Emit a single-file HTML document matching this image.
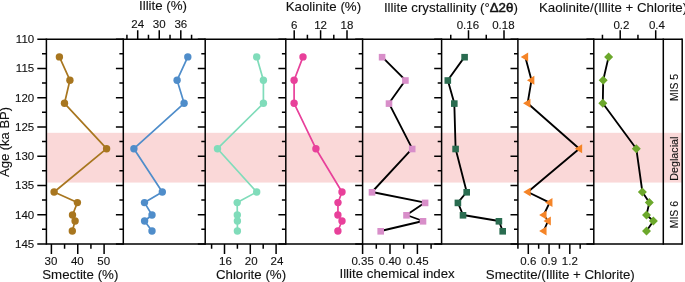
<!DOCTYPE html>
<html><head><meta charset="utf-8"><style>
html,body{margin:0;padding:0;background:#fff;width:685px;height:282px;overflow:hidden}
svg{display:block;font-family:"Liberation Sans",sans-serif;will-change:transform}
</style></head><body>
<svg width="685" height="282" viewBox="0 0 685 282">
<rect x="47.15" y="132.82" width="635.05" height="49.74" fill="#fad8d8"/><path d="M46.40 39.2H682.2M46.40 244.0H682.2" stroke="#000" stroke-width="1.5" fill="none"/><path d="M46.40 39.2V244.0M123.30 39.2V244.0M205.20 39.2V244.0M285.80 39.2V244.0M362.60 39.2V244.0M441.60 39.2V244.0M517.90 39.2V244.0M593.80 39.2V244.0M663.30 39.2V244.0M682.20 39.2V244.0" stroke="#000" stroke-width="1.5" fill="none" stroke-linecap="square"/><path d="M37.30 39.20H46.40M42.00 53.83H46.40M37.30 68.46H46.40M42.00 83.09H46.40M37.30 97.71H46.40M42.00 112.34H46.40M37.30 126.97H46.40M42.00 141.60H46.40M37.30 156.23H46.40M42.00 170.86H46.40M37.30 185.49H46.40M42.00 200.11H46.40M37.30 214.74H46.40M42.00 229.37H46.40M37.30 244.00H46.40M115.90 39.20H123.30M119.40 53.83H123.30M115.90 68.46H123.30M119.40 83.09H123.30M115.90 97.71H123.30M119.40 112.34H123.30M115.90 126.97H123.30M119.40 141.60H123.30M115.90 156.23H123.30M119.40 170.86H123.30M115.90 185.49H123.30M119.40 200.11H123.30M115.90 214.74H123.30M119.40 229.37H123.30M115.90 244.00H123.30M197.80 39.20H205.20M201.30 53.83H205.20M197.80 68.46H205.20M201.30 83.09H205.20M197.80 97.71H205.20M201.30 112.34H205.20M197.80 126.97H205.20M201.30 141.60H205.20M197.80 156.23H205.20M201.30 170.86H205.20M197.80 185.49H205.20M201.30 200.11H205.20M197.80 214.74H205.20M201.30 229.37H205.20M197.80 244.00H205.20M278.40 39.20H285.80M281.90 53.83H285.80M278.40 68.46H285.80M281.90 83.09H285.80M278.40 97.71H285.80M281.90 112.34H285.80M278.40 126.97H285.80M281.90 141.60H285.80M278.40 156.23H285.80M281.90 170.86H285.80M278.40 185.49H285.80M281.90 200.11H285.80M278.40 214.74H285.80M281.90 229.37H285.80M278.40 244.00H285.80M355.20 39.20H362.60M358.70 53.83H362.60M355.20 68.46H362.60M358.70 83.09H362.60M355.20 97.71H362.60M358.70 112.34H362.60M355.20 126.97H362.60M358.70 141.60H362.60M355.20 156.23H362.60M358.70 170.86H362.60M355.20 185.49H362.60M358.70 200.11H362.60M355.20 214.74H362.60M358.70 229.37H362.60M355.20 244.00H362.60M434.20 39.20H441.60M437.70 53.83H441.60M434.20 68.46H441.60M437.70 83.09H441.60M434.20 97.71H441.60M437.70 112.34H441.60M434.20 126.97H441.60M437.70 141.60H441.60M434.20 156.23H441.60M437.70 170.86H441.60M434.20 185.49H441.60M437.70 200.11H441.60M434.20 214.74H441.60M437.70 229.37H441.60M434.20 244.00H441.60M510.50 39.20H517.90M514.00 53.83H517.90M510.50 68.46H517.90M514.00 83.09H517.90M510.50 97.71H517.90M514.00 112.34H517.90M510.50 126.97H517.90M514.00 141.60H517.90M510.50 156.23H517.90M514.00 170.86H517.90M510.50 185.49H517.90M514.00 200.11H517.90M510.50 214.74H517.90M514.00 229.37H517.90M510.50 244.00H517.90M586.40 39.20H593.80M589.90 53.83H593.80M586.40 68.46H593.80M589.90 83.09H593.80M586.40 97.71H593.80M589.90 112.34H593.80M586.40 126.97H593.80M589.90 141.60H593.80M586.40 156.23H593.80M589.90 170.86H593.80M586.40 185.49H593.80M589.90 200.11H593.80M586.40 214.74H593.80M589.90 229.37H593.80M586.40 244.00H593.80M51.40 244.00V253.90M64.58 244.00V248.80M77.75 244.00V253.90M90.92 244.00V248.80M104.10 244.00V253.90M126.92 39.20V34.70M137.70 39.20V30.20M148.47 39.20V34.70M159.25 39.20V30.20M170.03 39.20V34.70M180.80 39.20V30.20M191.58 39.20V34.70M211.60 244.00V248.80M224.50 244.00V253.90M237.40 244.00V248.80M250.30 244.00V253.90M263.20 244.00V248.80M276.10 244.00V253.90M294.20 39.20V30.20M307.40 39.20V34.70M320.60 39.20V30.20M333.80 39.20V34.70M347.00 39.20V30.20M362.60 244.00V253.90M376.30 244.00V248.80M390.00 244.00V253.90M403.70 244.00V248.80M417.40 244.00V253.90M431.10 244.00V248.80M450.75 39.20V34.70M468.50 39.20V30.20M486.25 39.20V34.70M504.00 39.20V30.20M517.92 244.00V248.80M528.30 244.00V253.90M538.67 244.00V248.80M549.05 244.00V253.90M559.42 244.00V248.80M569.80 244.00V253.90M580.17 244.00V248.80M602.45 39.20V34.70M620.20 39.20V30.20M637.95 39.20V34.70M655.70 39.20V30.20" stroke="#000" stroke-width="1.5" fill="none"/><path d="M59.40 56.90 L69.90 80.20 L64.50 103.30 L106.60 148.70 L54.10 192.00 L77.40 202.60 L72.50 215.00 L75.10 221.00 L72.30 231.00" stroke="#a8761f" stroke-width="1.7" fill="none" stroke-linejoin="round"/><circle cx="59.40" cy="56.90" r="3.7" fill="#a8761f"/><circle cx="69.90" cy="80.20" r="3.7" fill="#a8761f"/><circle cx="64.50" cy="103.30" r="3.7" fill="#a8761f"/><circle cx="106.60" cy="148.70" r="3.7" fill="#a8761f"/><circle cx="54.10" cy="192.00" r="3.7" fill="#a8761f"/><circle cx="77.40" cy="202.60" r="3.7" fill="#a8761f"/><circle cx="72.50" cy="215.00" r="3.7" fill="#a8761f"/><circle cx="75.10" cy="221.00" r="3.7" fill="#a8761f"/><circle cx="72.30" cy="231.00" r="3.7" fill="#a8761f"/><path d="M187.80 56.90 L177.10 80.20 L184.10 103.30 L133.90 148.70 L162.30 192.00 L144.50 202.60 L152.00 215.00 L144.60 221.00 L152.00 231.00" stroke="#4f8dca" stroke-width="1.7" fill="none" stroke-linejoin="round"/><circle cx="187.80" cy="56.90" r="3.7" fill="#4f8dca"/><circle cx="177.10" cy="80.20" r="3.7" fill="#4f8dca"/><circle cx="184.10" cy="103.30" r="3.7" fill="#4f8dca"/><circle cx="133.90" cy="148.70" r="3.7" fill="#4f8dca"/><circle cx="162.30" cy="192.00" r="3.7" fill="#4f8dca"/><circle cx="144.50" cy="202.60" r="3.7" fill="#4f8dca"/><circle cx="152.00" cy="215.00" r="3.7" fill="#4f8dca"/><circle cx="144.60" cy="221.00" r="3.7" fill="#4f8dca"/><circle cx="152.00" cy="231.00" r="3.7" fill="#4f8dca"/><path d="M256.70 56.90 L263.40 80.20 L263.40 103.30 L217.50 148.70 L256.70 192.00 L237.20 202.60 L237.30 215.00 L237.40 221.00 L237.40 231.00" stroke="#80dcba" stroke-width="1.7" fill="none" stroke-linejoin="round"/><circle cx="256.70" cy="56.90" r="3.7" fill="#80dcba"/><circle cx="263.40" cy="80.20" r="3.7" fill="#80dcba"/><circle cx="263.40" cy="103.30" r="3.7" fill="#80dcba"/><circle cx="217.50" cy="148.70" r="3.7" fill="#80dcba"/><circle cx="256.70" cy="192.00" r="3.7" fill="#80dcba"/><circle cx="237.20" cy="202.60" r="3.7" fill="#80dcba"/><circle cx="237.30" cy="215.00" r="3.7" fill="#80dcba"/><circle cx="237.40" cy="221.00" r="3.7" fill="#80dcba"/><circle cx="237.40" cy="231.00" r="3.7" fill="#80dcba"/><path d="M303.00 56.90 L294.10 80.20 L294.10 103.30 L315.90 148.70 L342.00 192.00 L338.00 202.60 L337.90 215.00 L342.00 221.00 L337.90 231.00" stroke="#e8409a" stroke-width="1.7" fill="none" stroke-linejoin="round"/><circle cx="303.00" cy="56.90" r="3.7" fill="#e8409a"/><circle cx="294.10" cy="80.20" r="3.7" fill="#e8409a"/><circle cx="294.10" cy="103.30" r="3.7" fill="#e8409a"/><circle cx="315.90" cy="148.70" r="3.7" fill="#e8409a"/><circle cx="342.00" cy="192.00" r="3.7" fill="#e8409a"/><circle cx="338.00" cy="202.60" r="3.7" fill="#e8409a"/><circle cx="337.90" cy="215.00" r="3.7" fill="#e8409a"/><circle cx="342.00" cy="221.00" r="3.7" fill="#e8409a"/><circle cx="337.90" cy="231.00" r="3.7" fill="#e8409a"/><path d="M382.10 56.90 L405.40 80.20 L389.00 103.30 L412.20 148.70 L372.00 192.00 L425.10 202.60 L406.50 215.00 L423.00 221.00 L380.70 231.00" stroke="#000" stroke-width="1.85" fill="none" stroke-linejoin="round"/><rect x="378.80" y="53.90" width="6.6" height="6.6" fill="#d88ec9"/><rect x="402.10" y="77.20" width="6.6" height="6.6" fill="#d88ec9"/><rect x="385.70" y="100.30" width="6.6" height="6.6" fill="#d88ec9"/><rect x="408.90" y="145.70" width="6.6" height="6.6" fill="#d88ec9"/><rect x="368.70" y="189.00" width="6.6" height="6.6" fill="#d88ec9"/><rect x="421.80" y="199.60" width="6.6" height="6.6" fill="#d88ec9"/><rect x="403.20" y="212.00" width="6.6" height="6.6" fill="#d88ec9"/><rect x="419.70" y="218.00" width="6.6" height="6.6" fill="#d88ec9"/><rect x="377.40" y="228.00" width="6.6" height="6.6" fill="#d88ec9"/><path d="M464.60 56.90 L447.80 80.20 L454.30 103.30 L455.60 148.70 L466.70 192.00 L457.90 202.60 L463.00 215.00 L498.90 221.00 L502.70 231.00" stroke="#000" stroke-width="1.85" fill="none" stroke-linejoin="round"/><rect x="461.30" y="53.90" width="6.6" height="6.6" fill="#2a6c50"/><rect x="444.50" y="77.20" width="6.6" height="6.6" fill="#2a6c50"/><rect x="451.00" y="100.30" width="6.6" height="6.6" fill="#2a6c50"/><rect x="452.30" y="145.70" width="6.6" height="6.6" fill="#2a6c50"/><rect x="463.40" y="189.00" width="6.6" height="6.6" fill="#2a6c50"/><rect x="454.60" y="199.60" width="6.6" height="6.6" fill="#2a6c50"/><rect x="459.70" y="212.00" width="6.6" height="6.6" fill="#2a6c50"/><rect x="495.60" y="218.00" width="6.6" height="6.6" fill="#2a6c50"/><rect x="499.40" y="228.00" width="6.6" height="6.6" fill="#2a6c50"/><path d="M525.30 56.90 L531.50 80.20 L527.60 103.30 L579.30 148.70 L527.80 192.00 L549.60 202.60 L543.70 215.00 L548.00 221.00 L543.70 231.00" stroke="#000" stroke-width="1.85" fill="none" stroke-linejoin="round"/><path d="M520.75 56.90L528.15 52.40L528.15 61.40ZM526.95 80.20L534.35 75.70L534.35 84.70ZM523.05 103.30L530.45 98.80L530.45 107.80ZM574.75 148.70L582.15 144.20L582.15 153.20ZM523.25 192.00L530.65 187.50L530.65 196.50ZM545.05 202.60L552.45 198.10L552.45 207.10ZM539.15 215.00L546.55 210.50L546.55 219.50ZM543.45 221.00L550.85 216.50L550.85 225.50ZM539.15 231.00L546.55 226.50L546.55 235.50Z" fill="#f58427"/><path d="M608.60 56.90 L603.20 80.20 L602.80 103.30 L636.30 148.70 L642.40 192.00 L649.30 202.60 L646.50 215.00 L653.40 221.00 L646.50 231.00" stroke="#000" stroke-width="1.85" fill="none" stroke-linejoin="round"/><path d="M608.60 52.40L613.10 56.90L608.60 61.40L604.10 56.90ZM603.20 75.70L607.70 80.20L603.20 84.70L598.70 80.20ZM602.80 98.80L607.30 103.30L602.80 107.80L598.30 103.30ZM636.30 144.20L640.80 148.70L636.30 153.20L631.80 148.70ZM642.40 187.50L646.90 192.00L642.40 196.50L637.90 192.00ZM649.30 198.10L653.80 202.60L649.30 207.10L644.80 202.60ZM646.50 210.50L651.00 215.00L646.50 219.50L642.00 215.00ZM653.40 216.50L657.90 221.00L653.40 225.50L648.90 221.00ZM646.50 226.50L651.00 231.00L646.50 235.50L642.00 231.00Z" fill="#6ca82c"/>
<g font-family="Liberation Sans, sans-serif" fill="#111" stroke="#111" stroke-width="0.12"><text x="34.20" y="43.20" font-size="11.5" text-anchor="end" >110</text><text x="34.20" y="72.46" font-size="11.5" text-anchor="end" >115</text><text x="34.20" y="101.71" font-size="11.5" text-anchor="end" >120</text><text x="34.20" y="130.97" font-size="11.5" text-anchor="end" >125</text><text x="34.20" y="160.23" font-size="11.5" text-anchor="end" >130</text><text x="34.20" y="189.49" font-size="11.5" text-anchor="end" >135</text><text x="34.20" y="218.74" font-size="11.5" text-anchor="end" >140</text><text x="34.20" y="248.00" font-size="11.5" text-anchor="end" >145</text><text x="51.00" y="264.90" font-size="11.5" text-anchor="middle" >30</text><text x="77.35" y="264.90" font-size="11.5" text-anchor="middle" >40</text><text x="103.70" y="264.90" font-size="11.5" text-anchor="middle" >50</text><text x="137.70" y="27.80" font-size="11.5" text-anchor="middle" >24</text><text x="159.25" y="27.80" font-size="11.5" text-anchor="middle" >30</text><text x="180.80" y="27.80" font-size="11.5" text-anchor="middle" >36</text><text x="225.40" y="265.10" font-size="11.5" text-anchor="middle" >16</text><text x="251.20" y="265.10" font-size="11.5" text-anchor="middle" >20</text><text x="277.00" y="265.10" font-size="11.5" text-anchor="middle" >24</text><text x="294.20" y="29.10" font-size="11.5" text-anchor="middle" >6</text><text x="320.60" y="29.10" font-size="11.5" text-anchor="middle" >12</text><text x="347.00" y="29.10" font-size="11.5" text-anchor="middle" >18</text><text x="362.60" y="264.90" font-size="11.5" text-anchor="middle" >0.35</text><text x="390.00" y="264.90" font-size="11.5" text-anchor="middle" >0.40</text><text x="417.40" y="264.90" font-size="11.5" text-anchor="middle" >0.45</text><text x="467.90" y="29.10" font-size="11.5" text-anchor="middle" >0.16</text><text x="503.40" y="29.10" font-size="11.5" text-anchor="middle" >0.18</text><text x="528.30" y="264.90" font-size="11.5" text-anchor="middle" >0.6</text><text x="549.05" y="264.90" font-size="11.5" text-anchor="middle" >0.9</text><text x="569.80" y="264.90" font-size="11.5" text-anchor="middle" >1.2</text><text x="621.45" y="29.10" font-size="11.5" text-anchor="middle" >0.2</text><text x="656.95" y="29.10" font-size="11.5" text-anchor="middle" >0.4</text><text x="163.00" y="9.60" font-size="13.3" text-anchor="middle" >Illite (%)</text><text x="323.40" y="10.90" font-size="13.3" text-anchor="middle" >Kaolinite (%)</text><text x="450.90" y="11.50" font-size="13.3" text-anchor="middle" >Illite crystallinity (°<tspan stroke-width="0.5">Δ2θ</tspan>)</text><text x="539.00" y="11.90" font-size="13.3" text-anchor="start" >Kaolinite/(Illite + Chlorite)</text><text x="80.30" y="278.60" font-size="13.3" text-anchor="middle" >Smectite (%)</text><text x="251.00" y="278.60" font-size="13.3" text-anchor="middle" >Chlorite (%)</text><text x="397.10" y="278.10" font-size="13.3" text-anchor="middle" >Illite chemical index</text><text x="560.30" y="278.60" font-size="13.3" text-anchor="middle" >Smectite/(Illite + Chlorite)</text><text transform="translate(9.4,141.95) rotate(-90)" font-size="13" text-anchor="middle">Age (ka BP)</text><text transform="translate(677.6,87.45) rotate(-90)" font-size="10.4" text-anchor="middle">MIS 5</text><text transform="translate(677.6,158.65) rotate(-90)" font-size="10.7" text-anchor="middle">Deglacial</text><text transform="translate(677.6,214.65) rotate(-90)" font-size="10.4" text-anchor="middle">MIS 6</text></g>
</svg>
</body></html>
